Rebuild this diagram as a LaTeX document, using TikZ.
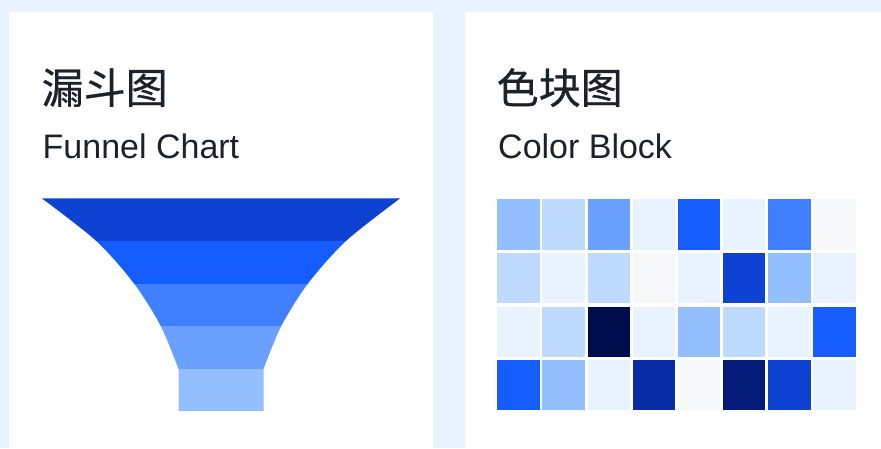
\documentclass[tikz,border=0pt]{standalone}
\usepackage{fontspec}
\setmainfont{Liberation Sans}
\newfontfamily\cjk[FakeBold=0.6]{Noto Sans CJK SC}
\definecolor{bgblue}{HTML}{E8F3FF}
\definecolor{blueA}{HTML}{E8F3FF}
\definecolor{blueB}{HTML}{BEDAFF}
\definecolor{blueC}{HTML}{94BFFF}
\definecolor{blueD}{HTML}{6AA1FF}
\definecolor{blueE}{HTML}{4080FF}
\definecolor{blueF}{HTML}{165DFF}
\definecolor{blueG}{HTML}{0E42D2}
\definecolor{blueH}{HTML}{072CA6}
\definecolor{blueI}{HTML}{031A79}
\definecolor{blueJ}{HTML}{000D4D}
\definecolor{grayA}{HTML}{F7F8FA}
\definecolor{textdark}{HTML}{1D2129}
\tikzset{
  cardtitle/.style={anchor=base west,inner sep=0pt,text=textdark,font=\cjk\fontsize{42}{50}\selectfont},
  cardsub/.style={anchor=base west,inner sep=0pt,text=textdark,font=\fontsize{34}{41}\selectfont}
}

\begin{document}
\begin{tikzpicture}[x=1pt,y=-1pt]
\useasboundingbox (0,0) rectangle (881,448);
\fill[bgblue] (0,0) rectangle (881,448);
\fill[white] (9.3,11.7) rectangle (432.7,448);
\fill[white] (465,11.7) rectangle (881,448);

\node[cardtitle] (funneltitle) at (41.5,103.5) {漏斗图};
\node[cardsub] (funnelsub) at (42.5,158) {Funnel Chart};
\node[cardtitle] (blocktitle) at (496.5,103.5) {色块图};
\node[cardsub] (blocksub) at (498,158) {Color Block};

% funnel
\begin{scope}
\clip plot[smooth,tension=0.5] coordinates {(41.8,198.3) (96.3,241) (134,283.5) (160.7,326) (178.5,369)}
  -- (178.5,411) -- (263.5,411) -- (263.5,369)
  -- plot[smooth,tension=0.5] coordinates {(263.5,369) (281.3,326) (308,283.5) (346,241) (400.2,198.3)} -- cycle;
\fill[blueG] (0,198.3) rectangle (450,241.3);
\fill[blueF] (0,241) rectangle (450,283.8);
\fill[blueE] (0,283.5) rectangle (450,326.3);
\fill[blueD] (0,326) rectangle (450,369.3);
\fill[blueC] (0,369) rectangle (450,411);
\end{scope}

% color block
\foreach \c [count=\i from 0] in {blueC,blueB,blueD,blueA,blueF,blueA,blueE,grayA}
  \fill[\c] (497.3+\i*45.1,199.3) rectangle ++(42.6,50.3);
\foreach \c [count=\i from 0] in {blueB,blueA,blueB,grayA,blueA,blueG,blueC,blueA}
  \fill[\c] (497.3+\i*45.1,252.9) rectangle ++(42.6,50.3);
\foreach \c [count=\i from 0] in {blueA,blueB,blueJ,blueA,blueC,blueB,blueA,blueF}
  \fill[\c] (497.3+\i*45.1,306.5) rectangle ++(42.6,50.3);
\foreach \c [count=\i from 0] in {blueF,blueC,blueA,blueH,grayA,blueI,blueG,blueA}
  \fill[\c] (497.3+\i*45.1,360.1) rectangle ++(42.6,50.3);
\end{tikzpicture}
\end{document}
